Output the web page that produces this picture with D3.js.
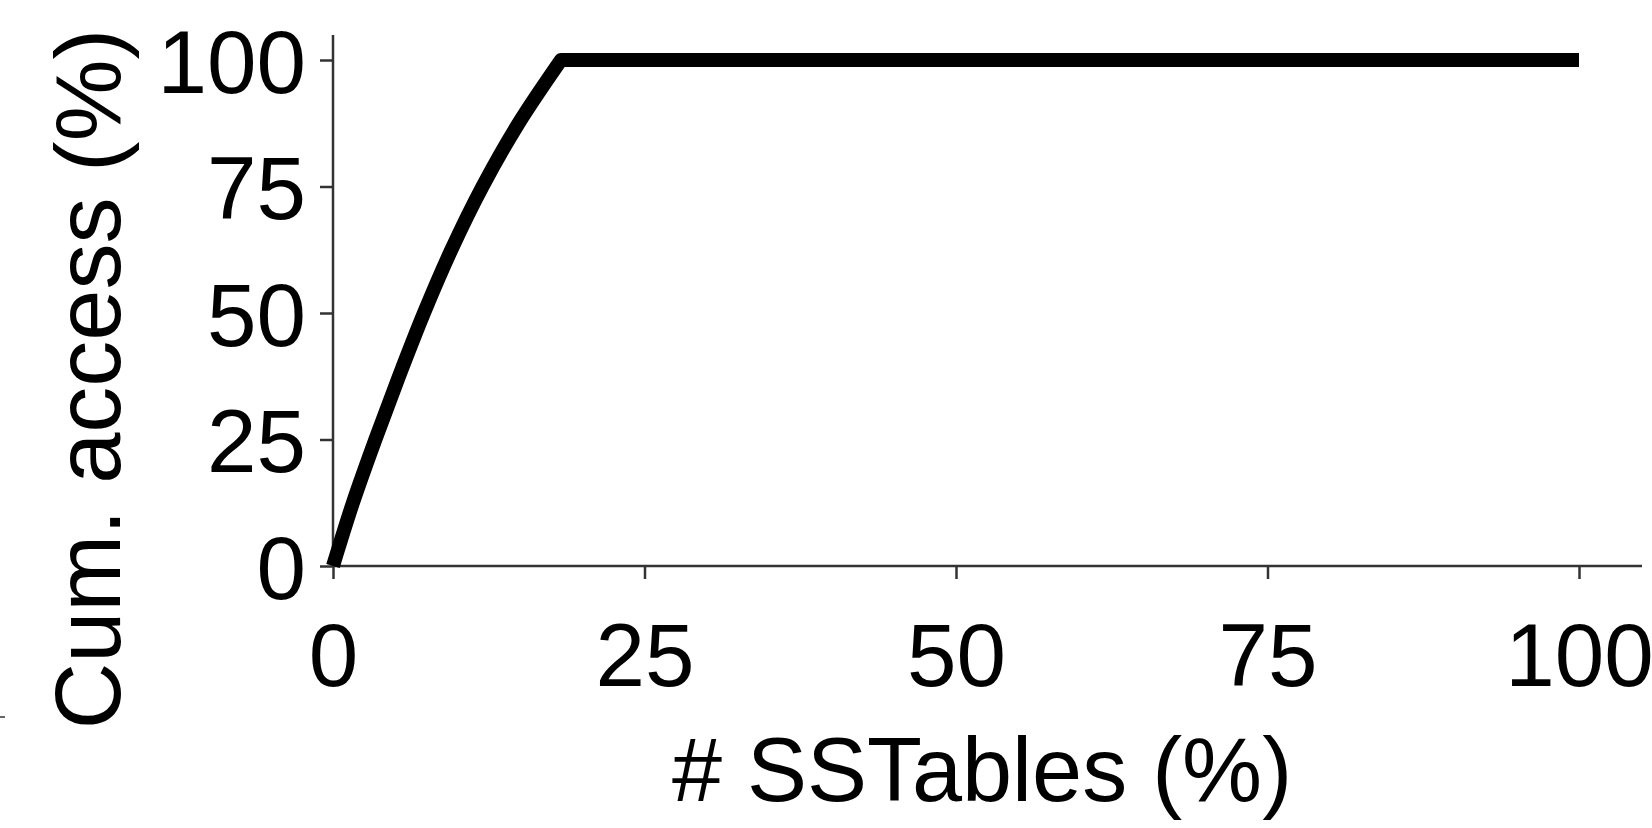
<!DOCTYPE html>
<html>
<head>
<meta charset="utf-8">
<script src="https://cdn.jsdelivr.net/npm/d3@7"></script>
<style>
  body { margin: 0; background: #fff; }
  text { font-family: "Liberation Sans", Arial, Helvetica, sans-serif; fill: #000; }
</style>
</head>
<body>
<div id="chart"></div>
<script>
// cumulative access curve (rising part, then flat at 100)
const sstablesPct = [0, 1.6, 3.4, 5.3, 7.3, 9.5, 12.0, 14.9, 18.3, 100];
const accessPct   = [0, 12.5, 25, 37.5, 50, 62.5, 75, 87.5, 100, 100];
const xTicks = [0, 25, 50, 75, 100];
const yTicks = [0, 25, 50, 75, 100];
const xTitle = '# SSTables (%)';
const yTitle = 'Cum. access (%)';

const width = 1652, height = 828;
const plotLeft = 333, plotRight = 1579, plotTop = 60, plotBottom = 566;
const axisColor = '#333';

var svg = d3.select('#chart')
    .append('svg')
    .attr('width', width)
    .attr('height', height);

var x = d3.scaleLinear().domain([0, 100]).range([plotLeft, plotRight]);
var y = d3.scaleLinear().domain([0, 100]).range([plotBottom, plotTop]);

// y axis
var yAxis = svg.append('g')
    .attr('transform', `translate(${plotLeft},0)`)
    .call(d3.axisLeft(y).tickValues(yTicks).tickSize(13).tickPadding(14).tickSizeOuter(0));
yAxis.select('.domain').remove();
yAxis.selectAll('.tick line').attr('stroke', axisColor).attr('stroke-width', 2.5);
yAxis.selectAll('.tick text')
    .attr('dy', '0.36em')
    .style('font-size', '89px');

// x axis
var xAxis = svg.append('g')
    .attr('transform', `translate(0,${plotBottom})`)
    .call(d3.axisBottom(x).tickValues(xTicks).tickSize(13).tickSizeOuter(0));
xAxis.select('.domain').remove();
xAxis.selectAll('.tick line').attr('stroke', axisColor).attr('stroke-width', 2.5);
xAxis.selectAll('.tick text')
    .attr('y', 57)
    .attr('dy', '0.71em')
    .style('font-size', '89px');

// axis lines, a little longer than the data range
svg.append('line')
    .attr('x1', plotLeft).attr('x2', plotLeft)
    .attr('y1', 35).attr('y2', plotBottom)
    .attr('stroke', axisColor).attr('stroke-width', 2.5);
svg.append('line')
    .attr('x1', plotLeft).attr('x2', 1642)
    .attr('y1', plotBottom).attr('y2', plotBottom)
    .attr('stroke', axisColor).attr('stroke-width', 2.5);

// curve: smooth rise up to the knee, straight after it
var points = d3.zip(sstablesPct, accessPct);
var knee = accessPct.indexOf(100);
var rising = d3.line()
    .x(d => x(d[0]))
    .y(d => y(d[1]))
    .curve(d3.curveMonotoneY);
var pathD = rising(points.slice(0, knee + 1)) +
    points.slice(knee + 1).map(d => `L${x(d[0])},${y(d[1])}`).join('');
svg.append('path')
    .attr('d', pathD)
    .attr('fill', 'none')
    .attr('stroke', '#000')
    .attr('stroke-width', 14)
    .attr('stroke-linejoin', 'round')
    .attr('stroke-linecap', 'butt');

// titles
svg.append('text')
    .attr('x', 982)
    .attr('y', 801)
    .attr('text-anchor', 'middle')
    .style('font-size', '90px')
    .text(xTitle);
svg.append('text')
    .attr('transform', 'translate(120,379) rotate(-90)')
    .attr('text-anchor', 'middle')
    .style('font-size', '92px')
    .text(yTitle);

// stray mark at the left edge
svg.append('line')
    .attr('x1', 0).attr('x2', 5)
    .attr('y1', 717).attr('y2', 717)
    .attr('stroke', axisColor).attr('stroke-width', 1.5);
</script>
</body>
</html>
